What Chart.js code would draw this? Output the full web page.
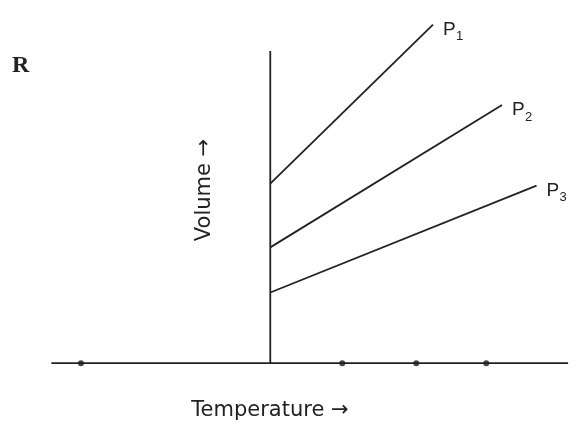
<!DOCTYPE html>
<html><head><meta charset="utf-8">
<script src="https://cdn.jsdelivr.net/npm/chart.js@4"></script>
<style>html,body{margin:0;background:#fff}#c{width:580px;height:430px}</style>
</head><body><div id="c"><canvas id="chart"></canvas></div>
<script>
// temperature axis positions (arbitrary units, 0 = vertical axis)
const axisX = [-222, 302];
const axisTop = 318;
const dotTemps = [-192, 73, 148, 219];
const lineLabels = ['P1', 'P2', 'P3'];
const startVolumes = [183, 118, 72];
const endTemps = [165, 235, 270];
const endVolumes = [345, 263, 181];

const ink = '#222';
const datasets = [
  {data: [{x: axisX[0], y: 0}, {x: axisX[1], y: 0}]},
  {data: [{x: 0, y: 0}, {x: 0, y: axisTop}]}
];
lineLabels.forEach((l, i) => datasets.push({
  data: [{x: 0, y: startVolumes[i]}, {x: endTemps[i], y: endVolumes[i]}]
}));
datasets.forEach(d => Object.assign(d, {borderColor: ink, borderWidth: 1.8, pointRadius: 0, showLine: true}));
datasets.push({data: dotTemps.map(t => ({x: t, y: 0})), showLine: false, pointRadius: 3,
  backgroundColor: '#444', borderWidth: 0});

const textPlugin = {
  id: 'texts',
  afterDraw(chart) {
    const c = chart.ctx, xs = chart.scales.x, ys = chart.scales.y;
    c.save();
    c.fillStyle = ink;
    c.textBaseline = 'middle';
    lineLabels.forEach((l, i) => {
      const px = xs.getPixelForValue(endTemps[i]) + 10, py = ys.getPixelForValue(endVolumes[i]) + 5;
      c.font = '19px "Liberation Sans", Arial';
      c.fillText(l[0], px, py);
      c.font = '13px "Liberation Sans", Arial';
      c.fillText(l.slice(1), px + 13, py + 7);
    });
    c.font = 'bold 24px "Liberation Serif", serif';
    c.fillText('R', 12, 66);
    c.font = '21px "DejaVu Sans", sans-serif';
    c.textAlign = 'center';
    c.fillText('Temperature \u2192', 270, 411);
    c.translate(205, 190);
    c.rotate(-Math.PI / 2);
    c.fillText('Volume \u2192', 0, 0);
    c.restore();
  }
};

new Chart(document.getElementById('chart'), {
  type: 'scatter',
  data: {datasets},
  options: {
    responsive: true, maintainAspectRatio: false, animation: false,
    layout: {padding: 0},
    plugins: {legend: {display: false}, tooltip: {enabled: false}},
    scales: {
      x: {type: 'linear', min: -270, max: 310, display: false},
      y: {type: 'linear', min: -64, max: 366, display: false}
    },
    elements: {line: {tension: 0}}
  },
  plugins: [textPlugin]
});
</script></body></html>
